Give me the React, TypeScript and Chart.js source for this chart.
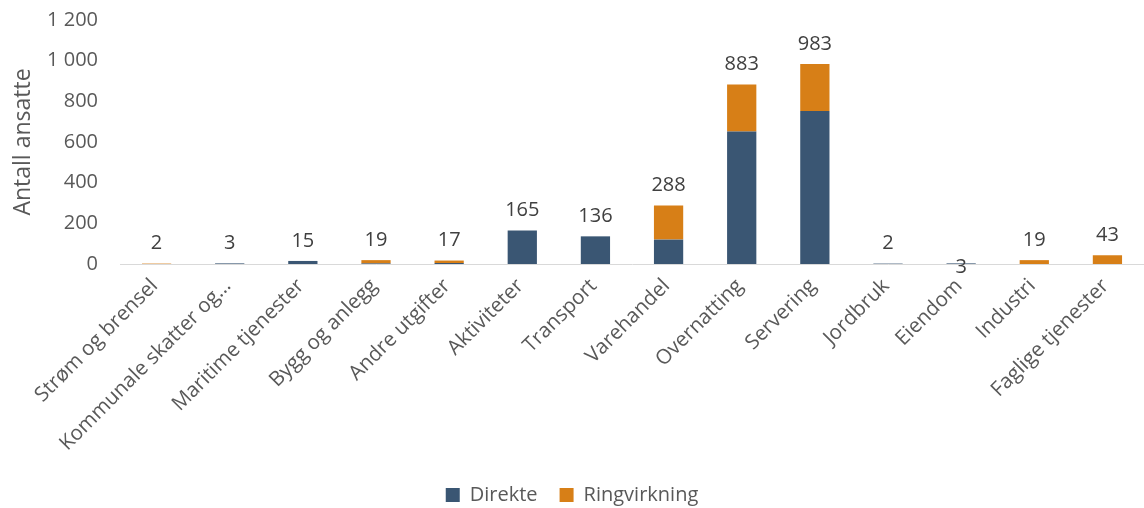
import React, { useEffect, useRef } from "react";
import { Chart, registerables } from "chart.js";

Chart.register(...registerables);

const categories = [
  "Strøm og brensel",
  "Kommunale skatter og…",
  "Maritime tjenester",
  "Bygg og anlegg",
  "Andre utgifter",
  "Aktiviteter",
  "Transport",
  "Varehandel",
  "Overnatting",
  "Servering",
  "Jordbruk",
  "Eiendom",
  "Industri",
  "Faglige tjenester",
];
const direkte = [0, 3, 15, 3, 5, 165, 136, 120, 652, 752, 2, 3, 0, 0];
const ringvirkning = [2, 0, 0, 16, 12, 0, 0, 168, 231, 231, 0, 0, 19, 43];
const yTicks = [0, 200, 400, 600, 800, 1000, 1200];
const labelsBelowAxis = ["Eiendom"];

const FONT = '"Open Sans", sans-serif';
const TEXT = "#595959";

const fmt = (v: number) => String(v).replace(/\B(?=(\d{3})+(?!\d))/g, " ");

const totalsPlugin = {
  id: "totals",
  afterDatasetsDraw(chart: any) {
    const { ctx, scales } = chart;
    const x = scales.x;
    const y = scales.y;
    ctx.save();
    ctx.font = `20px ${FONT}`;
    ctx.fillStyle = "#404040";
    ctx.textAlign = "center";
    ctx.textBaseline = "middle";
    categories.forEach((c, i) => {
      const total = direkte[i] + ringvirkning[i];
      const px = x.getPixelForValue(i);
      const py = labelsBelowAxis.includes(c)
        ? y.getPixelForValue(0) + 3
        : y.getPixelForValue(total) - 20;
      ctx.fillText(fmt(total), px, py);
    });
    ctx.restore();
  },
};

export default function App() {
  const ref = useRef<HTMLCanvasElement | null>(null);

  useEffect(() => {
    if (!ref.current) return;
    const chart = new Chart(ref.current, {
      type: "bar",
      data: {
        labels: categories,
        datasets: [
          {
            label: "Direkte",
            data: direkte,
            backgroundColor: "#3A5673",
            borderWidth: 0,
            barPercentage: 0.4,
            categoryPercentage: 1,
          },
          {
            label: "Ringvirkning",
            data: ringvirkning,
            backgroundColor: "#D77F17",
            borderWidth: 0,
            barPercentage: 0.4,
            categoryPercentage: 1,
          },
        ],
      },
      options: {
        animation: false,
        responsive: true,
        maintainAspectRatio: false,
        layout: { padding: { top: 20, left: 0, right: 0, bottom: -7 } },
        plugins: {
          legend: {
            position: "bottom",
            labels: {
              boxWidth: 14,
              boxHeight: 14,
              padding: 22,
              color: TEXT,
              font: { family: FONT, size: 20 },
            },
          },
          tooltip: { enabled: false },
        },
        scales: {
          x: {
            stacked: true,
            grid: { display: false, drawTicks: false },
            border: { color: "#D9D9D9", width: 1 },
            afterFit: (scale: any) => {
              scale.height = 199;
              scale.paddingTop = 0;
            },
            ticks: {
              autoSkip: false,
              maxRotation: 45,
              minRotation: 45,
              padding: 10,
              labelOffset: -2,
              color: TEXT,
              font: { family: FONT, size: 20.5 },
            },
          },
          y: {
            stacked: true,
            min: 0,
            max: 1200,
            afterBuildTicks: (scale: any) => {
              scale.ticks = yTicks.map((v) => ({ value: v }));
            },
            afterFit: (scale: any) => {
              scale.width = 120;
              scale.paddingTop = 0;
              scale.paddingBottom = 0;
            },
            grid: { display: false, drawTicks: false },
            border: { display: false },
            ticks: {
              padding: 22,
              color: TEXT,
              font: { family: FONT, size: 20 },
              callback: (v: any) => fmt(Number(v)),
            },
            title: {
              display: true,
              text: "Antall ansatte",
              color: TEXT,
              font: { family: FONT, size: 23 },
              padding: { top: 10, bottom: 0 },
            },
          },
        },
      },
      plugins: [totalsPlugin],
    });
    return () => chart.destroy();
  }, []);

  return (
    <div style={{ position: "fixed", left: 0, top: 0, width: 1144, height: 508, background: "#fff" }}>
      <canvas ref={ref} />
    </div>
  );
}
